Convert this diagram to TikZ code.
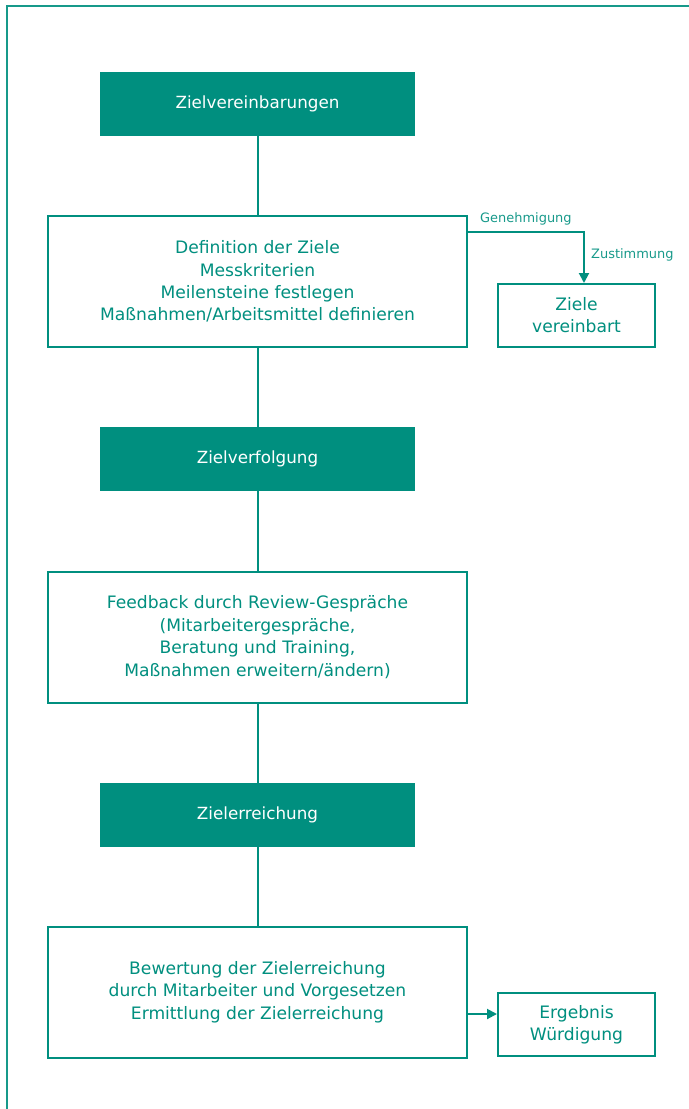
\documentclass[tikz,border=0pt]{standalone}
\usepackage{fontspec}
\setmainfont{DejaVu Sans}
\usetikzlibrary{arrows.meta}
\definecolor{teal1}{HTML}{008F7F}
\definecolor{teal2}{HTML}{17998A}
\begin{document}
\begin{tikzpicture}[x=1bp,y=-1bp,
  phase/.style={fill=teal1,draw=none,text=white,minimum width=315bp,minimum height=64bp,inner sep=0pt,font=\fontsize{16.8}{19}\selectfont},
  wbox/.style={draw=teal1,line width=2bp,fill=white,text=teal1,minimum width=419bp,minimum height=131bp,inner sep=0pt,align=center,font=\fontsize{17.2}{22.5}\selectfont},
  sbox/.style={draw=teal1,line width=2bp,fill=white,text=teal1,minimum width=157bp,minimum height=63bp,inner sep=0pt,align=center,font=\fontsize{17.2}{22}\selectfont},
  conn/.style={teal1,line width=2bp},
  arr/.style={teal1,line width=2bp,-{Triangle[length=10bp,width=10bp]}},
  lbl/.style={text=teal2,font=\fontsize{13}{15}\selectfont,inner sep=0pt}]
\useasboundingbox (0,0) rectangle (689,1109);
\draw[teal2,line width=2bp] (7,1130) -- (7,6) -- (700,6);
\node[phase] (p1) at (257.5,103.5) {Zielvereinbarungen};
\node[wbox] (b1) at (257.5,281.5) {Definition der Ziele\\Messkriterien\\Meilensteine festlegen\\Maßnahmen/Arbeitsmittel definieren};
\node[sbox] (z1) at (576.5,315.5) {Ziele\\vereinbart};
\node[phase] (p2) at (257.5,459) {Zielverfolgung};
\node[wbox] (b2) at (257.5,637) {Feedback durch Review-Gespräche\\(Mitarbeitergespräche,\\Beratung und Training,\\Maßnahmen erweitern/ändern)};
\node[phase] (p3) at (257.5,815) {Zielerreichung};
\node[wbox] (b3) at (257.5,992) {Bewertung der Zielerreichung\\durch Mitarbeiter und Vorgesetzen\\Ermittlung der Zielerreichung};
\node[sbox] (z2) at (576.5,1024.5) {Ergebnis\\Würdigung};
\draw[conn] (p1.south) -- (b1.north);
\draw[conn] (b1.south) -- (p2.north);
\draw[conn] (p2.south) -- (b2.north);
\draw[conn] (b2.south) -- (p3.north);
\draw[conn] (p3.south) -- (b3.north);
\coordinate (g1) at (467,232);
\coordinate (g2) at (584,232);
\draw[arr] (g1) -- (g2) -- (z1.north -| g2);
\node[lbl,anchor=base west] (lg) at (480,222) {Genehmigung};
\node[lbl,anchor=base west] (lz) at (591,258) {Zustimmung};
\draw[arr] (b3.east |- 0,1014) -- (z2.west |- 0,1014);
\end{tikzpicture}
\end{document}
